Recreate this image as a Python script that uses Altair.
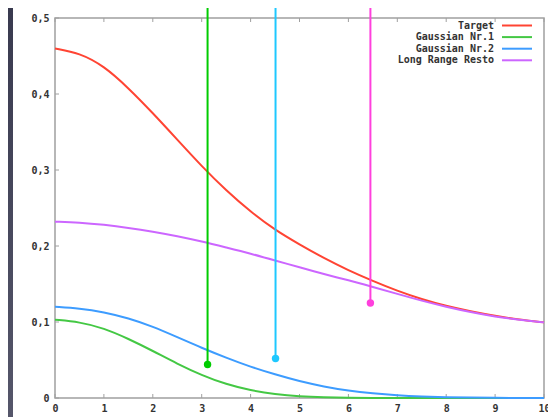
import altair as alt
import pandas as pd

# ---------------- data ----------------
x_vals = [0, 0.5, 1, 1.5, 2, 2.5, 3, 3.5, 4, 4.5, 5, 5.5, 6, 6.5, 7, 7.5, 8, 8.5, 9, 9.5, 10]
target = [0.460, 0.454, 0.437, 0.408, 0.375, 0.340, 0.305, 0.273, 0.245, 0.221, 0.202, 0.184,
          0.168, 0.154, 0.141, 0.130, 0.121, 0.114, 0.108, 0.103, 0.0995]
gauss1 = [0.103, 0.100, 0.092, 0.078, 0.062, 0.045, 0.030, 0.018, 0.010, 0.005, 0.002, 0.0008,
          0.0003, 0.0001, 0, 0, 0, 0, 0, 0, 0]
gauss2 = [0.120, 0.118, 0.113, 0.105, 0.094, 0.080, 0.066, 0.053, 0.041, 0.031, 0.022, 0.015,
          0.0095, 0.006, 0.0035, 0.002, 0.001, 0.0005, 0.0002, 0, 0]
long_range = [0.232, 0.231, 0.228, 0.224, 0.219, 0.213, 0.206, 0.198, 0.190, 0.181, 0.172, 0.163,
              0.155, 0.146, 0.137, 0.128, 0.120, 0.113, 0.107, 0.103, 0.0995]

series_names = ["Target", "Gaussian Nr.1", "Gaussian Nr.2", "Long Range Resto"]
series_colors = ["#ff4433", "#44c844", "#3d9cff", "#cc66ff"]
series_values = [target, gauss1, gauss2, long_range]

marker_x = [3.12, 4.51, 6.45]
marker_y = [0.044, 0.052, 0.125]
marker_colors = ["#00cc00", "#1ec8ff", "#ff40dd"]

x_ticks = [0, 1, 2, 3, 4, 5, 6, 7, 8, 9, 10]
y_ticks = [0, 0.1, 0.2, 0.3, 0.4, 0.5]

# ---------------- layout ----------------
W, H = 489, 380
PAD = {"left": 47, "top": 10, "right": 4, "bottom": 19}
FONT = "DejaVu Sans Mono"
AXIS_GRAY = "#a0a0a0"

xscale = alt.Scale(domain=[0, 10], nice=False, zero=False)
yscale = alt.Scale(domain=[0, 0.5], nice=False)

x_axis = alt.Axis(values=x_ticks, labelExpr="replace(format(datum.value, '.1~f'), '.', ',')",
                  ticks=False, domain=False, grid=False, title=None, labelFont=FONT,
                  labelFontWeight="bold", labelFontSize=10, labelColor="#333333",
                  labelPadding=5, labelFlush=False, zindex=2)
y_axis = alt.Axis(values=y_ticks, labelExpr="replace(format(datum.value, '.1~f'), '.', ',')",
                  ticks=False, domain=False, grid=False, title=None, labelFont=FONT,
                  labelFontWeight="bold", labelFontSize=10, labelColor="#333333",
                  labelPadding=6, zindex=2)

one = alt.Data(values=[{"a": 1}])

background = alt.Chart(one).mark_rect(
    fill=alt.LinearGradient(gradient="linear", x1=0, y1=0, x2=0, y2=1,
                            stops=[alt.GradientStop(color="#393a4f", offset=0),
                                   alt.GradientStop(color="#55566a", offset=1)])
).encode(x=alt.value(-PAD["left"]), x2=alt.value(W + PAD["right"]),
         y=alt.value(-PAD["top"]), y2=alt.value(H + PAD["bottom"]))

panel = alt.Chart(one).mark_rect(fill="white").encode(
    x=alt.value(-42), x2=alt.value(W + PAD["right"]),
    y=alt.value(-PAD["top"]), y2=alt.value(H + PAD["bottom"]))

frame = alt.Chart(one).mark_rect(fill=None, stroke=AXIS_GRAY, strokeWidth=1.5).encode(
    x=alt.value(0), x2=alt.value(W), y=alt.value(0), y2=alt.value(H))

xt = pd.DataFrame({"x": x_ticks})
yt = pd.DataFrame({"y": y_ticks})
xtick_bottom = alt.Chart(xt).mark_rule(color=AXIS_GRAY, strokeWidth=1).encode(
    x=alt.X("x:Q", scale=xscale, axis=x_axis), y=alt.value(H), y2=alt.value(H - 4))
xtick_top = alt.Chart(xt).mark_rule(color=AXIS_GRAY, strokeWidth=1).encode(
    x=alt.X("x:Q", scale=xscale, axis=x_axis), y=alt.value(0), y2=alt.value(4))
ytick_left = alt.Chart(yt).mark_rule(color=AXIS_GRAY, strokeWidth=1).encode(
    y=alt.Y("y:Q", scale=yscale, axis=y_axis), x=alt.value(0), x2=alt.value(4))

line_layers = []
for name, color, vals in zip(series_names, series_colors, series_values):
    df = pd.DataFrame({"x": x_vals, "v": vals})
    line_layers.append(
        alt.Chart(df).mark_line(color=color, strokeWidth=2, interpolate="basis").encode(
            x=alt.X("x:Q", scale=xscale, axis=x_axis),
            y=alt.Y("v:Q", scale=yscale, axis=y_axis)))

mk = pd.DataFrame({"x": marker_x, "y": marker_y, "c": marker_colors})
vlines = alt.Chart(mk).mark_rule(strokeWidth=2).encode(
    x=alt.X("x:Q", scale=xscale, axis=x_axis),
    y=alt.Y("y:Q", scale=yscale, axis=y_axis), y2=alt.value(-PAD["top"]),
    color=alt.Color("c:N", scale=None))
dots = alt.Chart(mk).mark_point(filled=True, size=55, opacity=1).encode(
    x=alt.X("x:Q", scale=xscale, axis=x_axis),
    y=alt.Y("y:Q", scale=yscale, axis=y_axis),
    color=alt.Color("c:N", scale=None))

leg = pd.DataFrame({"name": series_names, "c": series_colors,
                    "py": [7.5 + 11.6 * i for i in range(len(series_names))]})
leg_text = alt.Chart(leg).mark_text(align="right", baseline="middle", font=FONT,
                                    fontWeight="bold", fontSize=10, color="#333333").encode(
    x=alt.value(W - 50), y=alt.Y("py:Q", scale=None, axis=None), text="name:N")
leg_lines = alt.Chart(leg).mark_rule(strokeWidth=2).encode(
    x=alt.value(W - 42), x2=alt.value(W - 12), y=alt.Y("py:Q", scale=None, axis=None),
    color=alt.Color("c:N", scale=None))

chart = alt.layer(
    background, panel, frame, xtick_bottom, xtick_top, ytick_left,
    *line_layers, vlines, dots, leg_text, leg_lines
).properties(
    width=W, height=H, autosize=alt.AutoSizeParams(type="none"), padding=PAD,
    background="#3c3d52"
).configure_view(stroke=None)

chart.save("out.html", embed_options={"renderer": "svg", "actions": False})
